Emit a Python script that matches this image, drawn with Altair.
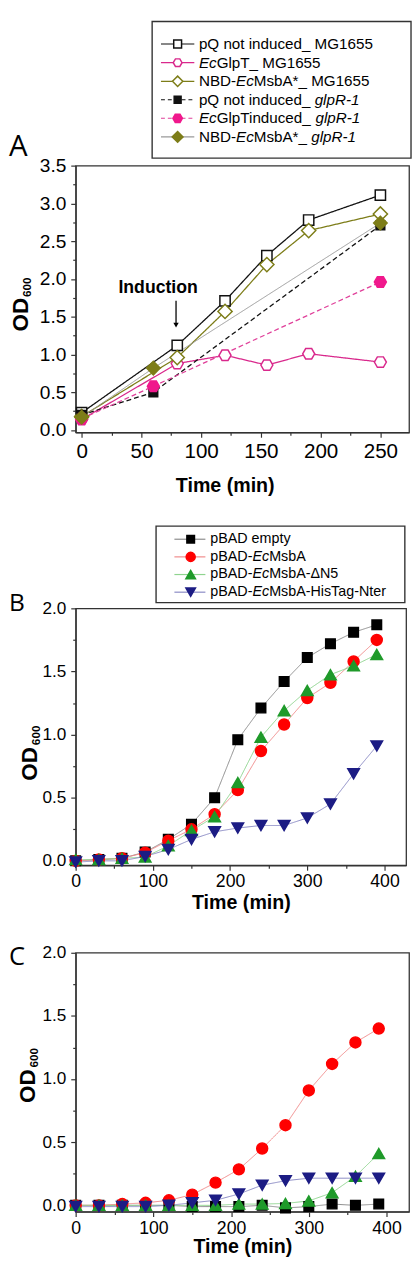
import altair as alt
import pandas as pd

FONT = "Liberation Sans"
HEX = "M-1,0L-0.5,-0.866L0.5,-0.866L1,0L0.5,0.866L-0.5,0.866Z"

# ---------------- Panel A data ----------------
a_labels = ["pQ not induced_ MG1655", "EcGlpT_ MG1655", "NBD-EcMsbA*_ MG1655",
            "pQ not induced_ glpR-1", "EcGlpTinduced_ glpR-1", "NBD-EcMsbA*_ glpR-1"]
a_label_parts = [
    [("pQ not induced_ MG1655", False)],
    [("Ec", True), ("GlpT_ MG1655", False)],
    [("NBD-", False), ("Ec", True), ("MsbA*_ MG1655", False)],
    [("pQ not induced_ ", False), ("glpR-1", True)],
    [("Ec", True), ("GlpTinduced_ ", False), ("glpR-1", True)],
    [("NBD-", False), ("Ec", True), ("MsbA*_ ", False), ("glpR-1", True)],
]
a_time_mg = [0, 80, 120, 155, 190, 250]
a_pq_mg = [0.23, 1.12, 1.71, 2.31, 2.78, 3.11]
a_glpt_mg = [0.14, 0.88, 0.99, 0.86, 1.01, 0.90]
a_nbd_mg = [0.18, 0.96, 1.57, 2.19, 2.64, 2.86]
a_time_glpr = [0, 60, 250]
a_pq_glpr = [0.20, 0.50, 2.71]
a_glpt_glpr = [0.15, 0.58, 1.96]
a_nbd_glpr = [0.17, 0.82, 2.74]
induction_time = 79
induction_text = "Induction"

# ---------------- Panels B / C data ----------------
bc_labels = ["pBAD empty", "pBAD-EcMsbA", "pBAD-EcMsbA-\u0394N5", "pBAD-EcMsbA-HisTag-Nter"]
bc_label_parts = [
    [("pBAD empty", False)],
    [("pBAD-", False), ("Ec", True), ("MsbA", False)],
    [("pBAD-", False), ("Ec", True), ("MsbA-\u0394N5", False)],
    [("pBAD-", False), ("Ec", True), ("MsbA-HisTag-Nter", False)],
]
bc_time = [0, 30, 60, 90, 120, 150, 180, 210, 240, 270, 300, 330, 360, 390]
b_empty = [0.00, 0.01, 0.02, 0.07, 0.17, 0.29, 0.50, 0.96, 1.21, 1.42, 1.61, 1.72, 1.81, 1.87]
b_msba = [0.00, 0.01, 0.02, 0.065, 0.16, 0.25, 0.37, 0.56, 0.87, 1.08, 1.29, 1.41, 1.58, 1.75]
b_dn5 = [0.01, 0.01, 0.02, 0.03, 0.12, 0.24, 0.35, 0.62, 0.98, 1.19, 1.35, 1.475, 1.545, 1.635]
b_his = [-0.01, 0.00, 0.00, 0.035, 0.09, 0.17, 0.23, 0.26, 0.28, 0.28, 0.34, 0.45, 0.69, 0.91]
c_empty = [0.00, 0.00, 0.00, 0.00, 0.00, -0.01, -0.01, -0.01, 0.00, -0.02, -0.01, 0.01, 0.00, 0.01]
c_msba = [0.00, 0.00, 0.01, 0.02, 0.04, 0.085, 0.18, 0.285, 0.45, 0.635, 0.91, 1.12, 1.29, 1.40]
c_dn5 = [0.00, 0.00, 0.00, 0.00, 0.00, 0.00, 0.00, 0.01, 0.01, 0.015, 0.035, 0.10, 0.23, 0.41]
c_his = [-0.01, -0.01, -0.01, -0.01, 0.00, 0.02, 0.04, 0.09, 0.16, 0.195, 0.215, 0.215, 0.215, 0.215]

# ---------------- styles ----------------
a_styles = [
    dict(line="#111111", dash=False, lw=1.3, shape="square", size=110, fill="white", stroke="#111111"),
    dict(line="#d9288c", dash=False, lw=1.3, shape=HEX, size=150, fill="white", stroke="#d9288c"),
    dict(line="#7d7d18", dash=False, lw=1.3, shape="diamond", size=210, fill="white", stroke="#7d7d18"),
    dict(line="#111111", dash=True, lw=1.3, shape="square", size=80, fill="#111111", stroke="#111111"),
    dict(line="#e0409a", dash=True, lw=1.3, shape=HEX, size=150, fill="#f0188c", stroke="#f0188c"),
    dict(line="#9a9a9a", dash=False, lw=1.0, shape="diamond", size=190, fill="#7d7d18", stroke="#7d7d18"),
]
a_legend_sizes = [64, 80, 110, 50, 95, 120]
bc_styles = [
    dict(line="#8c8c8c", dash=False, lw=1.0, shape="square", size=95, fill="#000000", stroke="#000000"),
    dict(line="#f08a8a", dash=False, lw=1.0, shape="circle", size=125, fill="#ff0000", stroke="#ff0000"),
    dict(line="#8fd48f", dash=False, lw=1.0, shape="triangle-up", size=140, fill="#1f9a2a", stroke="#1f9a2a"),
    dict(line="#8a8ac4", dash=False, lw=1.0, shape="triangle-down", size=140, fill="#1c1c84", stroke="#1c1c84"),
]
bc_legend_sizes = [60, 85, 95, 95]

ARIAL = {' ': 278, '*': 389, '-': 333, '_': 556, 'A': 667, 'B': 667, 'D': 722, 'E': 667,
         'G': 778, 'H': 722, 'M': 833, 'N': 722, 'Q': 778, 'R': 722, 'T': 611,
         'a': 556, 'b': 556, 'c': 500, 'd': 556, 'e': 556, 'g': 556, 'i': 222, 'l': 222,
         'm': 833, 'n': 556, 'o': 556, 'p': 556, 'r': 333, 's': 500, 't': 278, 'u': 556,
         'y': 500, '\u0394': 668}


def text_w(s, size):
    return sum(ARIAL.get(ch, 556) for ch in s) * size / 1000.0


# ---------------- layout (page pixels) ----------------
X0 = 76
H_A, H_B, H_C = 272, 262, 264
SP = 89.25
Y_A = 155
Y_LA = Y_A - SP - 1
Y_LB = Y_A + H_A + SP
Y_B = Y_LB + 1 + SP
Y_C = Y_B + H_B + SP
W_A, W_B, W_C = 340, 337, 340

FRAME = alt.ViewBackground(stroke="#333333", strokeWidth=1.3, fill="white")


def tick_cond(test, major=5, minor=3):
    return {"condition": {"test": test, "value": major}, "value": minor}


def make_axis(values, fmt, test, lab_size, lab_pad, title=None, **kw):
    return alt.Axis(values=values, format=fmt,
                    labelExpr="(%s) ? datum.label : ''" % test,
                    tickSize=tick_cond(test), tickWidth=1.2, tickColor="#333333",
                    domainColor="#333333", domainWidth=1.3, grid=False,
                    labelFont=FONT, labelFontSize=lab_size, labelColor="black",
                    labelPadding=lab_pad, labelOverlap=False, labelFlush=False,
                    labelBound=False, title=title, titleFont=FONT, titleFontWeight="bold",
                    titleColor="black", **kw)


def series_layers(df, labels, styles, X, Y):
    lines, pts = [], []
    for lab, st in zip(labels, styles):
        base = alt.Chart(df).transform_filter(alt.datum.series == lab)
        lines.append(base.mark_line(color=st["line"], strokeWidth=st["lw"],
                                    strokeDash=[5, 3] if st["dash"] else [1, 0]).encode(x=X, y=Y))
        pts.append(base.mark_point(shape=st["shape"], size=st["size"], filled=True,
                                   fill=st["fill"], stroke=st["stroke"], strokeWidth=1.5,
                                   opacity=1).encode(x=X, y=Y))
    return lines + pts


def label_layers(letter, lsize, lx, ly, od_x, od_y, sub_x, sub_y, od_size=23, sub_size=12):
    one = pd.DataFrame({"t": [letter]})
    out = [alt.Chart(one).mark_text(align="left", baseline="alphabetic", fontSize=lsize,
                                    font="Open Sans", color="black")
           .encode(text="t:N", x=alt.value(lx), y=alt.value(ly))]
    od = pd.DataFrame({"t": ["OD"]})
    sub = pd.DataFrame({"t": ["600"]})
    out.append(alt.Chart(od).mark_text(angle=270, align="center", baseline="alphabetic",
                                       fontSize=od_size, font=FONT, fontWeight="bold", color="black")
               .encode(text="t:N", x=alt.value(od_x), y=alt.value(od_y)))
    out.append(alt.Chart(sub).mark_text(angle=270, align="center", baseline="alphabetic",
                                        fontSize=sub_size, font=FONT, fontWeight="bold", color="black")
               .encode(text="t:N", x=alt.value(sub_x), y=alt.value(sub_y)))
    return out


def legend_chart(parts_list, styles, sizes, rows_y, box, line_x, sym_x, text_x, fsize,
                 width, oy):
    # all coordinates given in page pixels; converted to cell-relative
    boxdf = pd.DataFrame([dict(x=box[0] - X0, x2=box[2] - X0, y=box[1] - oy, y2=box[3] - oy)])
    lrows, srows, trows = [], [], []
    for parts, st, sz, yy in zip(parts_list, styles, sizes, rows_y):
        lrows.append(dict(x=line_x[0] - X0, x2=line_x[1] - X0, y=yy - oy, c=st["line"],
                          d="dash" if st["dash"] else "solid"))
        srows.append(dict(x=sym_x - X0, y=yy - oy, shape=st["shape"], size=sz,
                          fill=st["fill"], stroke=st["stroke"]))
        cx = text_x
        for seg, it in parts:
            trows.append(dict(x=cx - X0, y=yy - oy, t=seg, it=it))
            cx += text_w(seg, fsize)
    ldf = pd.DataFrame(lrows)
    sdf = pd.DataFrame(srows)
    tdf = pd.DataFrame(trows)
    ID = dict(scale=None)
    layers = [
        alt.Chart(boxdf).mark_rect(fill="white", stroke="#333333", strokeWidth=1.4).encode(
            x=alt.X("x:Q", **ID), x2="x2:Q", y=alt.Y("y:Q", **ID), y2="y2:Q"),
        alt.Chart(ldf).transform_filter(alt.datum.d == "solid").mark_rule(strokeWidth=1.2).encode(
            x=alt.X("x:Q", **ID), x2="x2:Q", y=alt.Y("y:Q", **ID), color=alt.Color("c:N", **ID)),
        alt.Chart(ldf).transform_filter(alt.datum.d == "dash").mark_rule(strokeWidth=1.2, strokeDash=[4, 3]).encode(
            x=alt.X("x:Q", **ID), x2="x2:Q", y=alt.Y("y:Q", **ID), color=alt.Color("c:N", **ID)),
        alt.Chart(sdf).mark_point(filled=True, strokeWidth=1.5, opacity=1).encode(
            x=alt.X("x:Q", **ID), y=alt.Y("y:Q", **ID), shape=alt.Shape("shape:N", **ID),
            size=alt.Size("size:Q", **ID), fill=alt.Fill("fill:N", **ID),
            stroke=alt.Stroke("stroke:N", **ID)),
        alt.Chart(tdf).transform_filter("!datum.it").mark_text(
            align="left", baseline="middle", font=FONT, fontSize=fsize, color="black").encode(
            x=alt.X("x:Q", **ID), y=alt.Y("y:Q", **ID), text="t:N"),
        alt.Chart(tdf).transform_filter("datum.it").mark_text(
            align="left", baseline="middle", font=FONT, fontSize=fsize, fontStyle="italic",
            color="black").encode(
            x=alt.X("x:Q", **ID), y=alt.Y("y:Q", **ID), text="t:N"),
    ]
    return alt.layer(*layers).properties(width=width, height=1,
                                         view=alt.ViewBackground(stroke=None, fill=None))


# ---------------- Panel A ----------------
rows = []
for lab, tt, vv in zip(a_labels,
                       [a_time_mg] * 3 + [a_time_glpr] * 3,
                       [a_pq_mg, a_glpt_mg, a_nbd_mg, a_pq_glpr, a_glpt_glpr, a_nbd_glpr]):
    for t, v in zip(tt, vv):
        rows.append(dict(series=lab, time=t, od=v))
dfA = pd.DataFrame(rows)

XA = alt.X("time:Q", scale=alt.Scale(domain=[-5, 274], nice=False, zero=False),
           axis=make_axis([i * 25 for i in range(11)], "d", "datum.value % 50 == 0", 21, 4,
                          title="Time (min)", titleFontSize=20, titleX=152, titleY=60,
                          titleBaseline="alphabetic"))
YA = alt.Y("od:Q", scale=alt.Scale(domain=[-0.03, 3.5], nice=False, zero=False),
           axis=make_axis([i * 0.25 for i in range(15)], ".1f",
                          "abs(datum.value * 2 - round(datum.value * 2)) < 0.001", 19.5, 5))

annot = pd.DataFrame({"time": [induction_time - 15], "od": [1.82], "t": [induction_text]})
arrow = pd.DataFrame({"time": [induction_time], "od": [1.71], "od2": [1.40]})
tip = pd.DataFrame({"time": [induction_time], "od": [1.39]})
a_extra = [
    alt.Chart(annot).mark_text(font=FONT, fontWeight="bold", fontSize=18, baseline="alphabetic",
                               color="black").encode(x=XA, y=YA, text="t:N"),
    alt.Chart(arrow).mark_rule(color="black", strokeWidth=1.3).encode(x=XA, y=YA, y2="od2:Q"),
    alt.Chart(tip).mark_point(shape="triangle-down", size=30, filled=True, color="black",
                              opacity=1).encode(x=XA, y=YA),
]
panelA = alt.layer(
    *series_layers(dfA, a_labels, a_styles, XA, YA), *a_extra,
    *label_layers("A", 30, -68, -10, -49, 152, -46, 124)
).properties(width=W_A, height=H_A, view=FRAME)

legA = legend_chart(a_label_parts, a_styles, a_legend_sizes,
                    [31, 50, 69, 87.8, 106.7, 125.7], (154, 8, 418, 147.3),
                    (163, 197), 180, 201.7, 15.5, W_A, Y_LA)


# ---------------- Panels B, C ----------------
def bc_frame(vals):
    r = []
    for lab, vv in zip(bc_labels, vals):
        for t, v in zip(bc_time, vv):
            r.append(dict(series=lab, time=t, od=v))
    return pd.DataFrame(r)


def bc_axes(xmax, ymin, title_y):
    X = alt.X("time:Q", scale=alt.Scale(domain=[0, xmax], nice=False, zero=False),
              axis=make_axis([i * 50 for i in range(9)], "d", "datum.value % 100 == 0", 18, 3,
                             title="Time (min)", titleFontSize=20, titleY=title_y,
                             titleBaseline="alphabetic"))
    Y = alt.Y("od:Q", scale=alt.Scale(domain=[ymin, 2.0], nice=False, zero=False),
              axis=make_axis([i * 0.25 for i in range(9)], ".1f",
                             "abs(datum.value * 2 - round(datum.value * 2)) < 0.001", 17.5, 5))
    return X, Y


XB, YB = bc_axes(428, -0.035, 44)
panelB = alt.layer(
    *series_layers(bc_frame([b_empty, b_msba, b_dn5, b_his]), bc_labels, bc_styles, XB, YB),
    *label_layers("B", 25, -68, 3, -39, 158.5, -36, 129.5)
).properties(width=W_B, height=H_B, view=FRAME)

XC, YC = bc_axes(429, -0.05, 42)
panelC = alt.layer(
    *series_layers(bc_frame([c_empty, c_msba, c_dn5, c_his]), bc_labels, bc_styles, XC, YC),
    *label_layers("C", 26, -68, 12, -41, 136, -38, 107)
).properties(width=W_C, height=H_C, view=FRAME)

legB = legend_chart(bc_label_parts, bc_styles, bc_legend_sizes,
                    [536, 554, 572, 590], (158, 522.7, 411.7, 600.7),
                    (176.7, 208.3), 193.3, 213.3, 14.6, W_B, Y_LB)

chart = alt.vconcat(legA, panelA, legB, panelB, panelC, spacing=SP, bounds="flush").properties(
    padding=0, background="white")

chart.save("out.html", embed_options={"renderer": "svg", "actions": False})
